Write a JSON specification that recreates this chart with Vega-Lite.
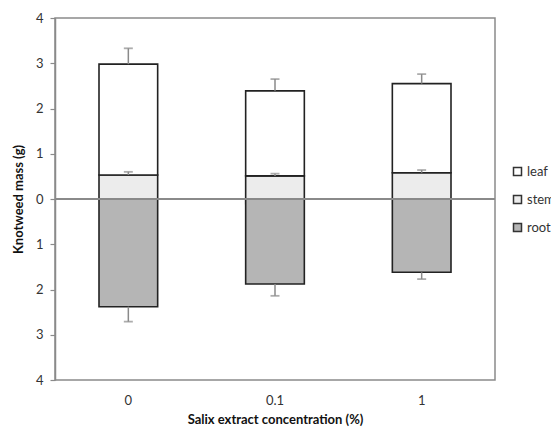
{
  "$schema": "https://vega.github.io/schema/vega-lite/v6.json",
  "width": 440,
  "height": 362,
  "autosize": {"type": "none"},
  "padding": {"left": 55, "top": 18, "right": 56, "bottom": 49},
  "background": "white",
  "config": {
    "font": "Lato",
    "view": {"stroke": "#8a8a8a", "strokeWidth": 1.5},
    "axis": {"labelFont": "Lato", "titleFont": "Lato", "labelColor": "#333", "titleColor": "#111"}
  },
  "data": {
    "values": [
      {"conc": "0", "part": "stem", "lo": 0, "hi": 0.53, "err": 0.6},
      {"conc": "0", "part": "leaf", "lo": 0.53, "hi": 2.98, "err": 3.33},
      {"conc": "0", "part": "root", "lo": 0, "hi": -2.38, "err": -2.71},
      {"conc": "0.1", "part": "stem", "lo": 0, "hi": 0.51, "err": 0.56},
      {"conc": "0.1", "part": "leaf", "lo": 0.51, "hi": 2.39, "err": 2.65},
      {"conc": "0.1", "part": "root", "lo": 0, "hi": -1.88, "err": -2.14},
      {"conc": "1", "part": "stem", "lo": 0, "hi": 0.58, "err": 0.64},
      {"conc": "1", "part": "leaf", "lo": 0.58, "hi": 2.55, "err": 2.76},
      {"conc": "1", "part": "root", "lo": 0, "hi": -1.62, "err": -1.77}
    ]
  },
  "layer": [
    {
      "mark": {"type": "bar", "stroke": "#222", "strokeWidth": 1.6},
      "encoding": {
        "x": {
          "field": "conc", "type": "nominal", "sort": ["0", "0.1", "1"],
          "scale": {"paddingInner": 0.6, "paddingOuter": 0.3},
          "axis": {
            "title": "Salix extract concentration (%)",
            "titleFontSize": 13, "titleFontWeight": "bold", "titlePadding": 6,
            "labelAngle": 0, "labelFontSize": 13, "labelPadding": 14,
            "ticks": false, "tickSize": 0, "domain": false
          }
        },
        "y": {
          "field": "lo", "type": "quantitative",
          "scale": {"domain": [-4, 4], "nice": false, "zero": false},
          "axis": {
            "title": "Knotweed mass (g)",
            "titleFontSize": 13, "titleFontWeight": "bold", "titlePadding": 10,
            "values": [-4, -3.5, -3, -2.5, -2, -1.5, -1, -0.5, 0, 0.5, 1, 1.5, 2, 2.5, 3, 3.5, 4],
            "labelExpr": "datum.value % 1 === 0 ? abs(datum.value) : ''",
            "labelFontSize": 13, "labelPadding": 7,
            "grid": false,
            "domainColor": "#8a8a8a", "domainWidth": 1.5,
            "tickColor": "#8a8a8a", "tickWidth": 1.2,
            "tickSize": {"condition": {"test": "datum.value % 1 !== 0", "value": 3}, "value": 5}
          }
        },
        "y2": {"field": "hi"},
        "color": {
          "field": "part", "type": "nominal",
          "scale": {"domain": ["leaf", "stem", "root"], "range": ["#ffffff", "#ececec", "#b5b5b5"]},
          "legend": {
            "title": null, "orient": "none", "legendX": 456, "legendY": 147,
            "symbolType": "square", "symbolSize": 64,
            "symbolStrokeColor": "#333", "symbolStrokeWidth": 1.5,
            "labelFontSize": 13, "labelColor": "#333", "labelOffset": 3, "rowPadding": 13
          }
        }
      }
    },
    {
      "mark": {"type": "rule", "color": "#8a8a8a", "strokeWidth": 1.5},
      "encoding": {
        "x": {"field": "conc", "type": "nominal", "sort": ["0", "0.1", "1"], "axis": null},
        "y": {"field": "hi", "type": "quantitative"},
        "y2": {"field": "err"}
      }
    },
    {
      "mark": {"type": "tick", "color": "#8a8a8a", "size": 9, "thickness": 1.8, "orient": "horizontal"},
      "encoding": {
        "x": {
          "field": "conc", "type": "nominal", "sort": ["0", "0.1", "1"],
          "axis": {
            "orient": "bottom", "offset": -181, "labels": false, "title": null,
            "domain": false, "ticks": true, "bandPosition": 0, "tickSize": 5,
            "tickColor": "#8a8a8a", "tickWidth": 1.2
          }
        },
        "y": {"field": "err", "type": "quantitative"}
      }
    },
    {
      "mark": {"type": "rule", "color": "#8a8a8a", "strokeWidth": 1.5},
      "encoding": {"y": {"datum": 0}}
    }
  ],
  "resolve": {"axis": {"x": "independent"}}
}
